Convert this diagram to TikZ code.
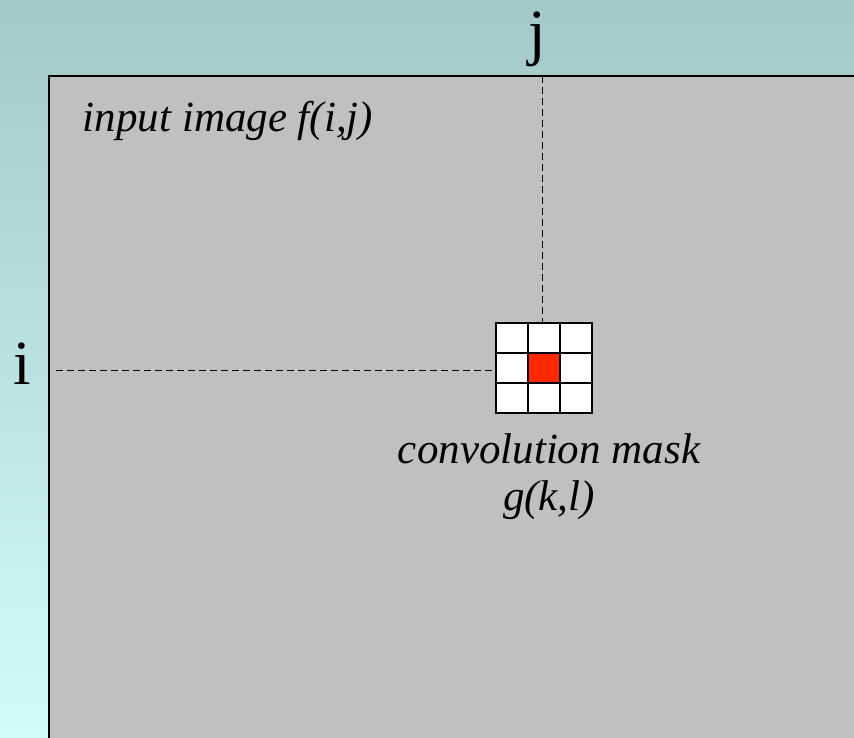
\documentclass[tikz,border=0pt]{standalone}
\usepackage{fontspec}
\setmainfont{Liberation Serif}
\definecolor{bgtop}{RGB}{163,200,200}
\definecolor{bgbot}{RGB}{210,252,252}
\definecolor{imggray}{RGB}{192,192,192}
\definecolor{maskred}{RGB}{255,40,0}
\begin{document}
\begin{tikzpicture}[x=1pt,y=-1pt]
    \tikzset{cell/.style= {draw,
                           fill=white,
                           line width=1.5pt,
                           minimum width=32pt,
                           minimum height=30pt,
                           inner sep=0pt},
             guide/.style={dash pattern=on 7pt off 4pt,
                           line width=1pt},
             big/.style=   {font=\fontsize{63}{70}\selectfont,
                            anchor=base},
             lbl/.style=   {font=\fontsize{43}{47}\selectfont\itshape,
                            align=center},
            }
    \useasboundingbox (0,0) rectangle (854,738);
    \shade[top color=bgtop,bottom color=bgbot] (0,0) rectangle (854,738);
    \draw[fill=imggray,line width=1.5pt] (49,76) -- (49,740) -- (856,740) -- (856,76) -- cycle;
    \path
    (512,338) node[cell](c11) {}
    (544,338) node[cell](c12) {}
    (576,338) node[cell](c13) {}
    (512,368) node[cell](c21) {}
    (544,368) node[cell,fill=maskred](c22) {}
    (576,368) node[cell](c23) {}
    (512,398) node[cell](c31) {}
    (544,398) node[cell](c32) {}
    (576,398) node[cell](c33) {}
    (537,54)  node[big](j) {j}
    (22,384)  node[big](i) {i}
    (228,132) node[lbl,anchor=base](f) {input image f(i,j)}
    (549,477) node[lbl](g) {convolution mask\\g(k,l)}
    ;
    \coordinate (jtop) at (542,76);
    \coordinate (ileft) at (56,370);
    \draw[guide] (jtop) -- (jtop |- c12.north);
    \draw[guide] (ileft) -- (ileft -| c21.west);
\end{tikzpicture}
\end{document}
